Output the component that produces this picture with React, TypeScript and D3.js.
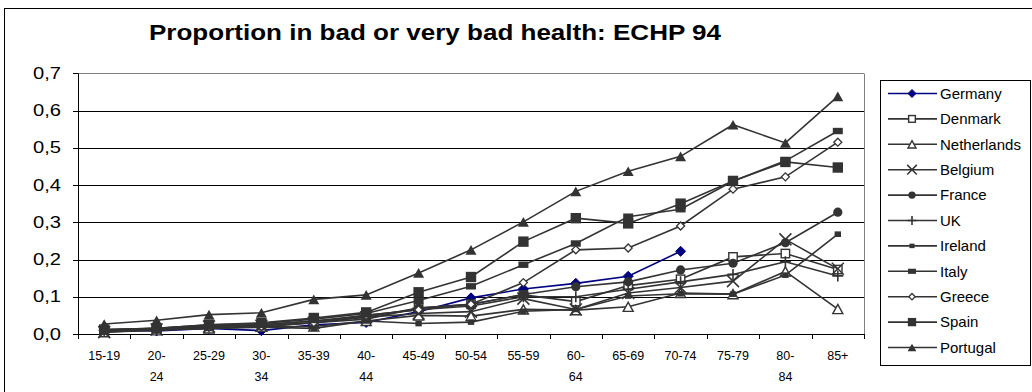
import React from "react";
import * as d3 from "d3";

// Age bands on the horizontal axis
const categories = [
  "15-19", "20-24", "25-29", "30-34", "35-39", "40-44", "45-49", "50-54",
  "55-59", "60-64", "65-69", "70-74", "75-79", "80-84", "85+",
];
// Labels that break onto two lines under the axis
const wrappedLabels = ["20-24", "30-34", "40-44", "60-64", "80-84"];

const yTicks = [0, 0.1, 0.2, 0.3, 0.4, 0.5, 0.6, 0.7];

// Share of people reporting bad or very bad health, by age band
const germany = [0.01, 0.008, 0.015, 0.009, 0.025, 0.031, 0.06, 0.097, 0.121, 0.136, 0.155, 0.222, null, null, null];
const denmark = [0.01, 0.012, 0.02, 0.02, 0.03, 0.04, 0.07, 0.08, 0.105, 0.087, 0.13, 0.147, 0.207, 0.216, 0.173];
const netherlands = [0.005, 0.01, 0.015, 0.02, 0.02, 0.035, 0.05, 0.048, 0.066, 0.064, 0.073, 0.11, 0.107, 0.168, 0.067];
const belgium = [0.005, 0.012, 0.02, 0.022, 0.03, 0.045, 0.055, 0.06, 0.095, 0.066, 0.11, 0.125, 0.142, 0.254, 0.175];
const france = [0.01, 0.015, 0.02, 0.025, 0.035, 0.045, 0.07, 0.08, 0.106, 0.127, 0.14, 0.172, 0.19, 0.245, 0.327];
const uk = [0.01, 0.015, 0.022, 0.025, 0.035, 0.05, 0.065, 0.075, 0.1, 0.1, 0.12, 0.14, 0.16, 0.194, 0.156];
const ireland = [0.008, 0.012, 0.015, 0.018, 0.015, 0.035, 0.028, 0.032, 0.061, 0.066, 0.102, 0.108, 0.107, 0.158, 0.268];
const italy = [0.012, 0.015, 0.025, 0.028, 0.04, 0.055, 0.09, 0.128, 0.186, 0.243, 0.315, 0.335, 0.41, 0.465, 0.545];
const greece = [0.008, 0.01, 0.018, 0.02, 0.03, 0.05, 0.065, 0.08, 0.138, 0.226, 0.231, 0.29, 0.389, 0.422, 0.515];
const spain = [0.012, 0.015, 0.025, 0.03, 0.043, 0.058, 0.112, 0.153, 0.248, 0.311, 0.297, 0.35, 0.411, 0.462, 0.447];
const portugal = [0.027, 0.037, 0.052, 0.057, 0.093, 0.105, 0.164, 0.226, 0.301, 0.383, 0.437, 0.477, 0.562, 0.513, 0.638];

const seriesNames = [
  "Germany", "Denmark", "Netherlands", "Belgium", "France", "UK",
  "Ireland", "Italy", "Greece", "Spain", "Portugal",
];
const seriesValues = [
  germany, denmark, netherlands, belgium, france, uk,
  ireland, italy, greece, spain, portugal,
];
const markerKinds = [
  "diamond", "openSquare", "openTriangle", "cross", "circle", "plus",
  "smallSquare", "wideRect", "openDiamond", "bigSquare", "triangle",
];

const DARK = "#333333";
const NAVY = "#000080";

function Marker({ kind, cx, cy, color, s = 1 }) {
  const fill = color;
  switch (kind) {
    case "diamond": {
      const r = 5 * s;
      return <path d={`M${cx},${cy - r}L${cx + r},${cy}L${cx},${cy + r}L${cx - r},${cy}Z`} fill={fill} stroke={fill} strokeWidth={1} />;
    }
    case "openSquare": {
      const h = 4.2 * s;
      return <rect x={cx - h} y={cy - h} width={2 * h} height={2 * h} fill="#fff" stroke={fill} strokeWidth={1.4} />;
    }
    case "openTriangle": {
      const w = 5 * s, h = 4.6 * s;
      return <path d={`M${cx},${cy - h}L${cx + w},${cy + h}L${cx - w},${cy + h}Z`} fill="#fff" stroke={fill} strokeWidth={1.4} />;
    }
    case "cross": {
      const h = 6 * s;
      return <path d={`M${cx - h},${cy - h}L${cx + h},${cy + h}M${cx - h},${cy + h}L${cx + h},${cy - h}`} stroke={fill} strokeWidth={1.5} />;
    }
    case "circle":
      return <circle cx={cx} cy={cy} r={4.6 * s} fill={fill} />;
    case "plus": {
      const h = 5.5 * s;
      return <path d={`M${cx - h},${cy}L${cx + h},${cy}M${cx},${cy - h}L${cx},${cy + h}`} stroke={fill} strokeWidth={1.6} />;
    }
    case "smallSquare": {
      const w = 3.2 * s, h = 2.8 * s;
      return <rect x={cx - w} y={cy - h} width={2 * w} height={2 * h} fill={fill} />;
    }
    case "wideRect": {
      const w = 5 * s, h = 3.2 * s;
      return <rect x={cx - w} y={cy - h} width={2 * w} height={2 * h} fill={fill} />;
    }
    case "openDiamond": {
      const r = 4 * s;
      return <path d={`M${cx},${cy - r}L${cx + r},${cy}L${cx},${cy + r}L${cx - r},${cy}Z`} fill="#fff" stroke={fill} strokeWidth={1.3} />;
    }
    case "bigSquare": {
      const h = 5.2 * s;
      return <rect x={cx - h} y={cy - h} width={2 * h} height={2 * h} fill={fill} />;
    }
    case "triangle": {
      const w = 5.5 * s, h = 4.8 * s;
      return <path d={`M${cx},${cy - h}L${cx + w},${cy + h}L${cx - w},${cy + h}Z`} fill={fill} />;
    }
    default:
      return null;
  }
}

export default function App() {
  const W = 1032, H = 392;
  const left = 78, right = 864, top = 73.3, bottom = 334;

  const x = d3.scaleBand().domain(categories).range([left, right]).paddingInner(0).paddingOuter(0);
  const bw = x.bandwidth();
  const cx = (c) => (x(c) as number) + bw / 2;
  const y = d3.scaleLinear().domain([0, 0.7]).range([bottom, top]);
  const fmt = (v) => d3.format(".1f")(v).replace(".", ",");

  const line = d3
    .line<number | null>()
    .defined((d) => d != null)
    .x((_, i) => cx(categories[i]))
    .y((d) => y(d as number));

  const legendX = 880.5, legendY = 80.5, legendW = 150, legendH = 285;
  const legendRow0 = 93.5, legendStep = 25.4;

  return (
    <svg width={W} height={H} style={{ position: "absolute", left: 0, top: 0, background: "#fff" }} fontFamily="Arial, 'Liberation Sans', sans-serif">
      <rect x={0} y={0} width={W} height={H} fill="#fff" />
      {/* chart frame */}
      <rect x={4.5} y={8.5} width={1040} height={400} fill="none" stroke="#000" strokeWidth={1} />

      {/* title */}
      <text x={149} y={39.5} fontSize={22} fontWeight="bold" textLength={572} lengthAdjust="spacingAndGlyphs" fill="#000">
        Proportion in bad or very bad health: ECHP 94
      </text>

      {/* horizontal gridlines */}
      {yTicks.slice(1).map((t) => (
        <line key={t} x1={left} x2={right} y1={Math.round(y(t)) + 0.5} y2={Math.round(y(t)) + 0.5} stroke={t === 0.7 ? "#808080" : "#000"} strokeWidth={1} />
      ))}
      {/* plot area right edge */}
      <line x1={right + 0.5} x2={right + 0.5} y1={Math.round(top) + 0.5} y2={bottom} stroke="#808080" strokeWidth={1} />

      {/* y axis */}
      <line x1={left + 0.5} x2={left + 0.5} y1={Math.round(top) + 0.5} y2={bottom} stroke="#000" />
      {yTicks.map((t) => (
        <g key={t}>
          <line x1={left - 5} x2={left} y1={Math.round(y(t)) + 0.5} y2={Math.round(y(t)) + 0.5} stroke="#000" />
          <text x={61} y={y(t) + 5.5} fontSize={16} textAnchor="end" textLength={28} lengthAdjust="spacingAndGlyphs" fill="#000">
            {fmt(t)}
          </text>
        </g>
      ))}

      {/* x axis */}
      <line x1={left} x2={right + 1} y1={bottom + 0.5} y2={bottom + 0.5} stroke="#000" />
      {d3.range(categories.length + 1).map((k) => {
        const xx = Math.round(left + bw * k) + 0.5;
        return <line key={k} x1={xx} x2={xx} y1={bottom} y2={bottom + 5} stroke="#000" />;
      })}
      {categories.map((c) => {
        const wrapped = wrappedLabels.includes(c);
        const parts = wrapped ? [c.split("-")[0] + "-", c.split("-")[1]] : [c];
        return (
          <text key={c} fontSize={12.5} textAnchor="middle" fill="#000">
            {parts.map((p, j) => (
              <tspan key={j} x={cx(c)} y={360 + j * 20.5}>
                {p}
              </tspan>
            ))}
          </text>
        );
      })}

      {/* series */}
      {seriesValues.map((vals, si) => {
        const color = si === 0 ? NAVY : DARK;
        return (
          <g key={seriesNames[si]}>
            <path d={line(vals) || ""} fill="none" stroke={color} strokeWidth={1.6} />
            {vals.map((v, i) =>
              v == null ? null : (
                <Marker key={i} kind={markerKinds[si]} cx={cx(categories[i])} cy={y(v)} color={color} />
              )
            )}
          </g>
        );
      })}

      {/* legend */}
      <rect x={legendX} y={legendY} width={legendW} height={legendH} fill="#fff" stroke="#000" strokeWidth={1} />
      {seriesNames.map((name, si) => {
        const ly = legendRow0 + si * legendStep;
        const color = si === 0 ? NAVY : DARK;
        return (
          <g key={name}>
            <line x1={888} x2={937} y1={ly} y2={ly} stroke={color} strokeWidth={1.6} />
            <Marker kind={markerKinds[si]} cx={912} cy={ly} color={color} s={0.8} />
            <text x={940} y={ly + 5.3} fontSize={15} fill="#000">
              {name}
            </text>
          </g>
        );
      })}
    </svg>
  );
}
